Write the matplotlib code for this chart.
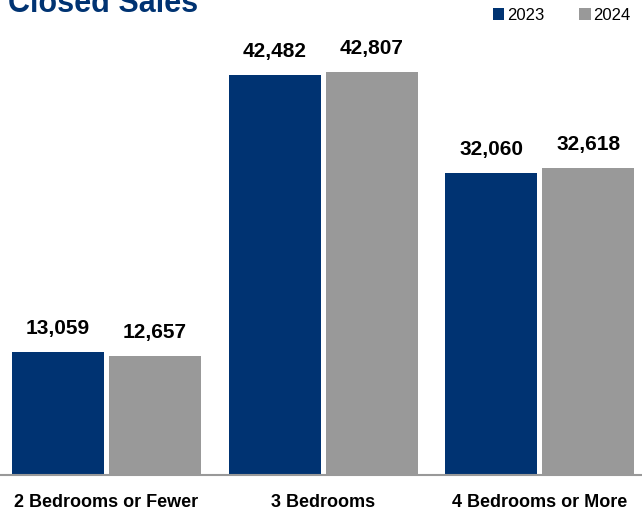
"""Closed Sales by bedroom count, 2023 vs 2024."""

import matplotlib.pyplot as plt
import numpy as np

plt.rcParams["font.family"] = ["Liberation Sans", "DejaVu Sans"]

categories = ["2 Bedrooms or Fewer", "3 Bedrooms", "4 Bedrooms or More"]
years = ["2023", "2024"]
sales_2023 = [13059, 42482, 32060]
sales_2024 = [12657, 42807, 32618]

NAVY = "#003372"
GRAY = "#999999"

W, H = 642, 512
fig = plt.figure(figsize=(W / 100, H / 100), dpi=100)
ax = fig.add_axes([0, 1 - 475 / H, 1, 475 / H])

x = np.arange(len(categories))
width = 0.425
offset = 0.224

bars_a = ax.bar(x - offset, sales_2023, width, color=NAVY, label=years[0])
bars_b = ax.bar(x + offset, sales_2024, width, color=GRAY, label=years[1])

for bars in (bars_a, bars_b):
    for b in bars:
        ax.annotate(f"{int(b.get_height()):,}",
                    (b.get_x() + b.get_width() / 2, b.get_height()),
                    xytext=(0, 10), textcoords="offset points",
                    ha="center", va="bottom", fontsize=15, fontweight="bold",
                    color="black")

ax.set_xlim(-0.492, 2.473)
ax.set_ylim(0, 50450)
ax.set_yticks([])
ax.set_xticks(x)
ax.set_xticklabels(categories, fontsize=13, fontweight="bold")
ax.tick_params(axis="x", length=0, pad=14)
for s in ("top", "right", "left"):
    ax.spines[s].set_visible(False)
ax.spines["bottom"].set_color("#999999")
ax.spines["bottom"].set_linewidth(1.5)
ax.patch.set_alpha(0)

fig.text(8 / W, 1 - 12 / H, "Closed Sales", fontsize=22, fontweight="bold",
         color=NAVY, ha="left", va="baseline",
         family=["Liberation Sans Narrow", "Liberation Sans", "DejaVu Sans"])

leg = fig.legend(handles=[bars_a, bars_b], labels=years, loc="upper right",
                 bbox_to_anchor=(1 - 5 / W, 1 - 1 / H), ncol=2, frameon=False,
                 fontsize=12, handlelength=0.7, handleheight=0.7,
                 handletextpad=0.15, columnspacing=2.1, borderaxespad=0)

fig.savefig("out.png", dpi=100)
